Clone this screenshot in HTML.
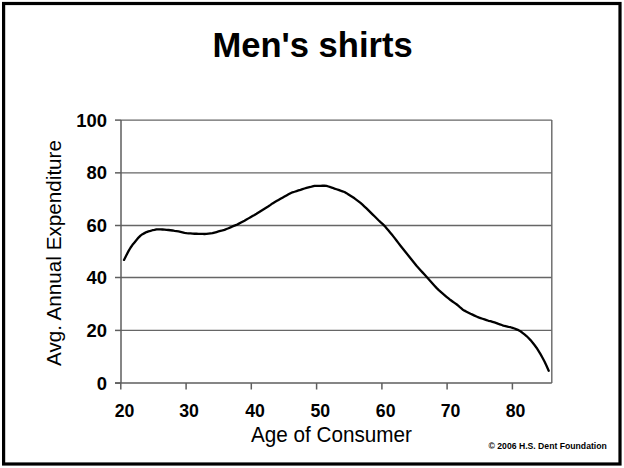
<!DOCTYPE html>
<html><head><meta charset="utf-8"><style>
html,body{margin:0;padding:0;background:#fff;}
svg{display:block;}
text{font-family:"Liberation Sans",sans-serif;fill:#000;}
</style></head><body>
<svg width="624" height="468" viewBox="0 0 624 468">
<rect x="0" y="0" width="624" height="468" fill="#fff"/>
<rect x="3.6" y="3.5" width="616.4" height="460.5" fill="none" stroke="#000" stroke-width="3.2"/>
<text x="212.4" y="56.7" font-weight="bold" font-size="35.2" textLength="200.4" lengthAdjust="spacingAndGlyphs">Men's shirts</text>
<g stroke="#666" stroke-width="1.4" fill="none">
<line x1="121.0" y1="120.10" x2="551.8" y2="120.10"/><line x1="121.0" y1="172.85" x2="551.8" y2="172.85"/><line x1="121.0" y1="225.50" x2="551.8" y2="225.50"/><line x1="121.0" y1="277.50" x2="551.8" y2="277.50"/><line x1="121.0" y1="330.40" x2="551.8" y2="330.40"/>
<line x1="551.8" y1="120.1" x2="551.8" y2="383.1"/>
</g>
<g stroke="#5e5e5e" stroke-width="1.5" fill="none">
<line x1="121.0" y1="120.1" x2="121.0" y2="383.1"/>
<line x1="115" y1="383.1" x2="551.8" y2="383.1"/>
<line x1="115" y1="120.10" x2="121.0" y2="120.10"/><line x1="115" y1="172.85" x2="121.0" y2="172.85"/><line x1="115" y1="225.50" x2="121.0" y2="225.50"/><line x1="115" y1="277.50" x2="121.0" y2="277.50"/><line x1="115" y1="330.40" x2="121.0" y2="330.40"/><line x1="115" y1="383.10" x2="121.0" y2="383.10"/>
<line x1="120.8" y1="383.1" x2="120.8" y2="389.5"/><line x1="186.1" y1="383.1" x2="186.1" y2="389.5"/><line x1="251.3" y1="383.1" x2="251.3" y2="389.5"/><line x1="316.6" y1="383.1" x2="316.6" y2="389.5"/><line x1="381.9" y1="383.1" x2="381.9" y2="389.5"/><line x1="447.1" y1="383.1" x2="447.1" y2="389.5"/><line x1="512.4" y1="383.1" x2="512.4" y2="389.5"/>
</g>
<path d="M124.0,259.90 L126.5,254.93 L128.5,251.16 L130.5,247.73 L132.5,244.81 L134.5,242.43 L136.5,239.97 L138.5,237.55 L140.5,235.62 L142.5,234.16 L144.5,233.12 L146.5,232.08 L148.5,231.31 L150.5,230.82 L152.5,230.24 L154.5,229.82 L156.5,229.31 L158.5,229.31 L160.5,229.47 L162.5,229.49 L164.5,229.57 L166.5,229.77 L168.5,230.01 L170.5,230.25 L172.5,230.49 L174.5,230.85 L176.5,231.09 L178.5,231.35 L180.5,231.81 L182.5,232.29 L184.5,232.84 L186.5,233.17 L188.5,233.30 L190.5,233.47 L192.5,233.70 L194.5,233.74 L196.5,233.77 L198.5,233.80 L200.5,233.87 L202.5,233.93 L204.5,233.98 L206.5,233.92 L208.5,233.67 L210.5,233.45 L212.5,233.20 L214.5,232.56 L216.5,232.02 L218.5,231.45 L220.5,230.86 L222.5,230.40 L224.5,229.89 L226.5,229.02 L228.5,228.22 L230.5,227.35 L232.5,226.44 L234.5,225.65 L236.5,224.91 L238.5,223.89 L240.5,222.83 L242.5,221.77 L244.5,220.70 L246.5,219.54 L248.5,218.38 L250.5,217.22 L252.5,216.05 L254.5,214.94 L256.5,213.75 L258.5,212.47 L260.5,211.20 L262.5,209.93 L264.5,208.73 L266.5,207.48 L268.5,206.26 L270.5,204.90 L272.5,203.43 L274.5,202.23 L276.5,201.11 L278.5,199.99 L280.5,198.84 L282.5,197.72 L284.5,196.61 L286.5,195.48 L288.5,194.36 L290.5,193.26 L292.5,192.30 L294.5,191.76 L296.5,191.14 L298.5,190.45 L300.5,189.82 L302.5,189.09 L304.5,188.51 L306.5,187.93 L308.5,187.48 L310.5,186.99 L312.5,186.45 L314.5,185.97 L316.5,185.82 L318.5,185.79 L320.5,185.78 L322.5,185.77 L324.5,185.76 L326.5,185.87 L328.5,186.48 L330.5,187.19 L332.5,187.80 L334.5,188.58 L336.5,189.28 L338.5,189.94 L340.5,190.69 L342.5,191.35 L344.5,191.99 L346.5,193.15 L348.5,194.46 L350.5,195.73 L352.5,196.97 L354.5,198.32 L356.5,199.82 L358.5,201.31 L360.5,202.94 L362.5,204.72 L364.5,206.54 L366.5,208.44 L368.5,210.38 L370.5,212.36 L372.5,214.34 L374.5,216.30 L376.5,218.27 L378.5,220.29 L380.5,222.19 L382.5,223.90 L384.5,225.82 L386.5,228.14 L388.5,230.56 L390.5,232.96 L392.5,235.34 L394.5,237.92 L396.5,240.55 L398.5,243.15 L400.5,245.67 L402.5,248.18 L404.5,250.69 L406.5,253.21 L408.5,255.70 L410.5,258.21 L412.5,260.72 L414.5,263.24 L416.5,265.81 L418.5,268.01 L420.5,270.23 L422.5,272.40 L424.5,274.58 L426.5,276.76 L428.5,278.96 L430.5,281.19 L432.5,283.44 L434.5,285.70 L436.5,287.88 L438.5,289.80 L440.5,291.59 L442.5,293.34 L444.5,295.08 L446.5,296.76 L448.5,298.38 L450.5,300.03 L452.5,301.47 L454.5,302.87 L456.5,304.25 L458.5,305.90 L460.5,307.74 L462.5,309.44 L464.5,310.64 L466.5,311.68 L468.5,312.72 L470.5,313.74 L472.5,314.65 L474.5,315.60 L476.5,316.55 L478.5,317.41 L480.5,318.11 L482.5,318.77 L484.5,319.39 L486.5,320.09 L488.5,320.76 L490.5,321.19 L492.5,321.81 L494.5,322.46 L496.5,323.15 L498.5,323.90 L500.5,324.53 L502.5,325.29 L504.5,325.97 L506.5,326.42 L508.5,326.86 L510.5,327.24 L512.5,327.84 L514.5,328.50 L516.5,329.32 L518.5,330.15 L520.5,331.25 L522.5,332.84 L524.5,334.39 L526.5,336.05 L528.5,338.02 L530.5,340.10 L532.5,342.46 L534.5,345.04 L536.5,347.72 L538.5,350.87 L540.5,354.11 L542.5,357.69 L544.5,361.56 L546.5,365.79 L548.7,370.80" fill="none" stroke="#000" stroke-width="2.3" stroke-linejoin="round" stroke-linecap="round"/>
<g font-weight="bold" font-size="17.5" text-anchor="end"><text x="107" y="126.5" textLength="30.75" lengthAdjust="spacingAndGlyphs">100</text><text x="107" y="179.2" textLength="20.50" lengthAdjust="spacingAndGlyphs">80</text><text x="107" y="231.9" textLength="20.50" lengthAdjust="spacingAndGlyphs">60</text><text x="107" y="283.9" textLength="20.50" lengthAdjust="spacingAndGlyphs">40</text><text x="107" y="336.8" textLength="20.50" lengthAdjust="spacingAndGlyphs">20</text><text x="107" y="389.5" textLength="10.25" lengthAdjust="spacingAndGlyphs">0</text></g>
<g font-weight="bold" font-size="17.7" text-anchor="middle"><text x="124.5" y="416.6">20</text><text x="189" y="416.6">30</text><text x="255" y="416.6">40</text><text x="320.3" y="416.6">50</text><text x="385.7" y="416.6">60</text><text x="450.6" y="416.6">70</text><text x="515.6" y="416.6">80</text></g>
<text x="251.0" y="441.7" font-size="21.5" textLength="161" lengthAdjust="spacingAndGlyphs">Age of Consumer</text>
<text transform="translate(60.9,366.0) rotate(-90)" font-size="20.5" textLength="226" lengthAdjust="spacingAndGlyphs">Avg. Annual Expenditure</text>
<text x="488.5" y="448.7" font-size="8.85" font-weight="bold" textLength="118.3" lengthAdjust="spacingAndGlyphs">© 2006 H.S. Dent Foundation</text>
</svg>
</body></html>
